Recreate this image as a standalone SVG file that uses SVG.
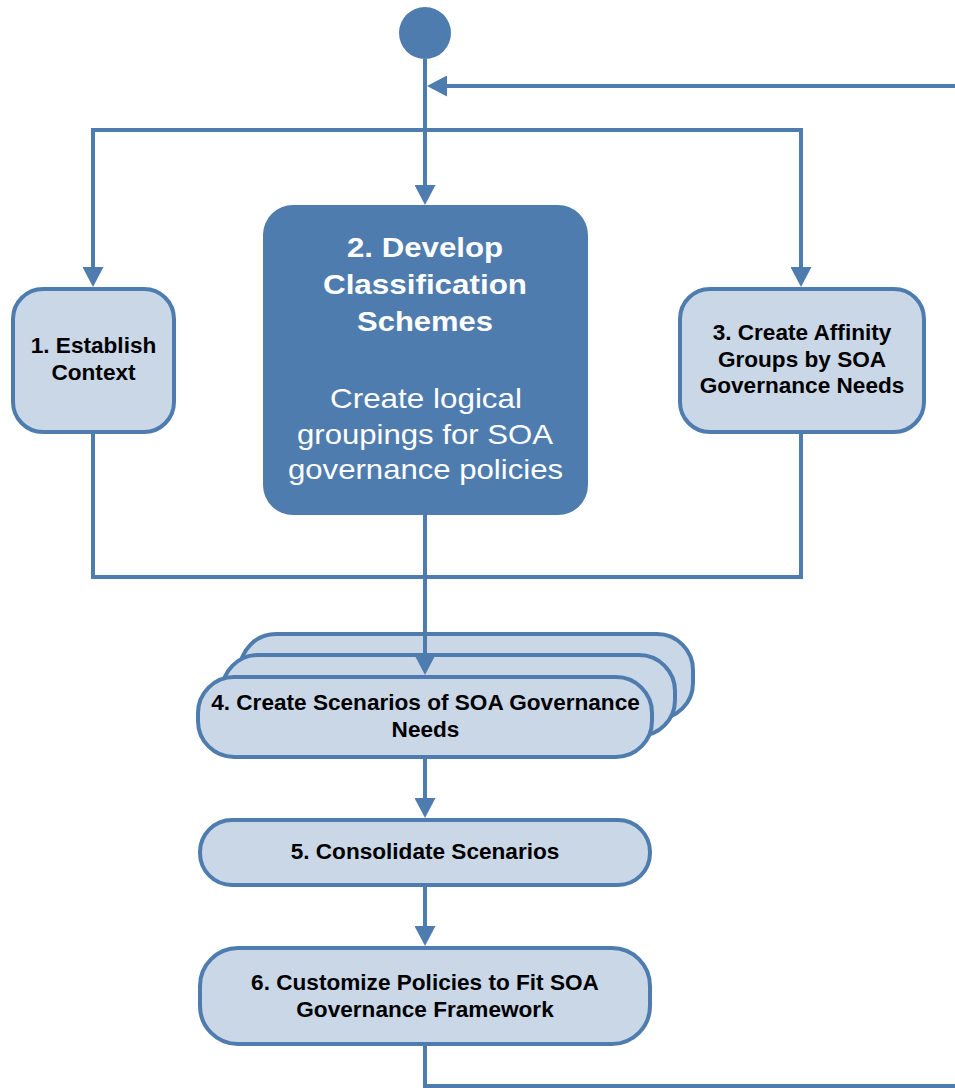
<svg xmlns="http://www.w3.org/2000/svg" width="955" height="1088" viewBox="0 0 955 1088">
  <style>
    .step { fill: #C9D7E7; stroke: #4F7CAF; stroke-width: 4; }
    .main { fill: #4F7CAF; stroke: none; }
    .lbl { font-family: "Liberation Sans", Arial, sans-serif; font-size: 22.6px; font-weight: bold; fill: #000; text-anchor: middle; }
    .ttl { font-family: "Liberation Sans", Arial, sans-serif; font-size: 27px; font-weight: bold; fill: #FFF; text-anchor: middle; }
    .sub { font-family: "Liberation Sans", Arial, sans-serif; font-size: 28px; fill: #FFF; text-anchor: middle; }
    .flow { fill: none; stroke: #4F7CAF; stroke-width: 4; stroke-linejoin: miter; }
  </style>
  <defs>
    <marker id="arrow" markerUnits="userSpaceOnUse" viewBox="0 0 20 21" refX="16" refY="10.5" markerWidth="20" markerHeight="21" orient="auto">
      <path d="M0,0 L20,10.5 L0,21 Z" fill="#4F7CAF"/>
    </marker>
  </defs>

  <rect width="955" height="1088" fill="#FFFFFF"/>

  <!-- start node -->
  <g id="start">
    <circle cx="425" cy="33" r="26" fill="#4F7CAF"/>
  </g>

  <g id="step1">
    <rect class="step" x="13" y="289" width="161" height="143" rx="30" ry="30"/>
    <text class="lbl" x="93.5" y="353">1. Establish</text>
    <text class="lbl" x="93.5" y="380">Context</text>
  </g>

  <g id="step2">
    <rect class="main" x="263" y="205" width="325" height="310" rx="30" ry="30"/>
    <text class="ttl" x="425" y="257" textLength="156" lengthAdjust="spacingAndGlyphs">2. Develop</text>
    <text class="ttl" x="425" y="294" textLength="204" lengthAdjust="spacingAndGlyphs">Classification</text>
    <text class="ttl" x="425" y="331" textLength="136" lengthAdjust="spacingAndGlyphs">Schemes</text>
    <text class="sub" x="426" y="408" textLength="192" lengthAdjust="spacingAndGlyphs">Create logical</text>
    <text class="sub" x="425" y="444" textLength="256" lengthAdjust="spacingAndGlyphs">groupings for SOA</text>
    <text class="sub" x="425.5" y="479" textLength="275" lengthAdjust="spacingAndGlyphs">governance policies</text>
  </g>

  <g id="step3">
    <rect class="step" x="680" y="289" width="244" height="143" rx="30" ry="30"/>
    <text class="lbl" x="802" y="340">3. Create Affinity</text>
    <text class="lbl" x="802" y="367">Groups by SOA</text>
    <text class="lbl" x="802" y="393">Governance Needs</text>
  </g>

  <g id="step4">
    <rect class="step" x="240" y="634" width="453" height="85" rx="36" ry="36"/>
    <rect class="step" x="222" y="655" width="453" height="81" rx="36" ry="36"/>
    <rect class="step" x="198" y="677" width="454" height="80" rx="36" ry="36"/>
    <text class="lbl" x="425.5" y="710">4. Create Scenarios of SOA Governance</text>
    <text class="lbl" x="425.5" y="737">Needs</text>
  </g>

  <g id="step5">
    <rect class="step" x="200" y="820" width="450" height="65" rx="32" ry="32"/>
    <text class="lbl" x="425" y="859">5. Consolidate Scenarios</text>
  </g>

  <g id="step6">
    <rect class="step" x="200" y="948" width="450" height="96" rx="38" ry="38"/>
    <text class="lbl" x="425" y="990">6. Customize Policies to Fit SOA</text>
    <text class="lbl" x="425" y="1017">Governance Framework</text>
  </g>

  <g id="connectors">
    <!-- start to step 2 -->
    <path class="flow" d="M425,59 V201" marker-end="url(#arrow)"/>
    <!-- fork to steps 1 and 3 -->
    <path class="flow" d="M425,130 H93 V283" marker-end="url(#arrow)"/>
    <path class="flow" d="M425,130 H801 V283" marker-end="url(#arrow)"/>
    <!-- loop back from step 6 -->
    <path class="flow" d="M955,86 H431" marker-end="url(#arrow)"/>
    <!-- join below steps 1 and 3 -->
    <path class="flow" d="M93,432 V577 H801 V432"/>
    <!-- step 2 to step 4 -->
    <path class="flow" d="M425,515 V671" marker-end="url(#arrow)"/>
    <!-- step 4 to step 5 -->
    <path class="flow" d="M425,757 V814" marker-end="url(#arrow)"/>
    <!-- step 5 to step 6 -->
    <path class="flow" d="M425,885 V942" marker-end="url(#arrow)"/>
    <!-- step 6 out to the loop -->
    <path class="flow" d="M425,1044 V1086 H955"/>
  </g>
</svg>
